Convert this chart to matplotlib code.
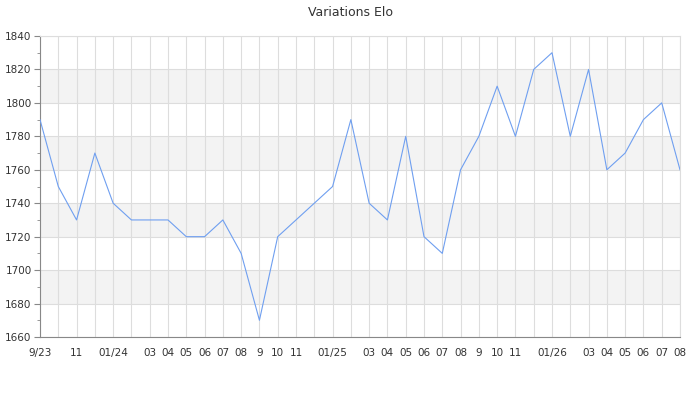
import matplotlib.pyplot as plt
import numpy as np

labels = ['9/23', '10', '11', '12', '01/24', '02', '03', '04', '05', '06', '07', '08',
          '9', '10', '11', '12', '01/25', '02', '03', '04', '05', '06', '07', '08',
          '9', '10', '11', '12', '01/26', '02', '03', '04', '05', '06', '07', '08']
shown = [True, False, True, False, True, False, True, True, True, True, True, True,
         True, True, True, False, True, False, True, True, True, True, True, True,
         True, True, True, False, True, False, True, True, True, True, True, True]
elo = [1790, 1750, 1730, 1770, 1740, 1730, 1730, 1730, 1720, 1720, 1730, 1710,
       1670, 1720, 1730, 1740, 1750, 1790, 1740, 1730, 1780, 1720, 1710, 1760,
       1780, 1810, 1780, 1820, 1830, 1780, 1820, 1760, 1770, 1790, 1800, 1760]

x = np.arange(len(elo))

fig = plt.figure(figsize=(7, 4), dpi=100)
ax = fig.add_axes([40/700, 1 - 337/400, 640/700, 301/400])

# alternating grey bands
for lo in [1680, 1720, 1760, 1800]:
    ax.axhspan(lo, lo + 20, color='#f3f3f3', zorder=0, lw=0)

ax.plot(x, elo, color='#6f9ff0', linewidth=0.8, zorder=3)

ax.set_xlim(0, len(elo) - 1)
ax.set_ylim(1660, 1840)
ax.set_yticks(np.arange(1660, 1841, 20))
ax.set_yticks(np.arange(1660, 1841, 10), minor=True)
ax.set_xticks(x)
ax.set_xticklabels([l if s else '' for l, s in zip(labels, shown)])

ax.grid(True, which='major', color='#dddddd', linewidth=0.8, zorder=1)
ax.set_axisbelow(True)

for side in ['top', 'right']:
    ax.spines[side].set_color('#dddddd')
    ax.spines[side].set_linewidth(0.8)
for side in ['left', 'bottom']:
    ax.spines[side].set_color('#888888')
    ax.spines[side].set_linewidth(0.8)

ax.tick_params(axis='x', length=0, labelsize=7.5, labelcolor='#333333', pad=8)
ax.tick_params(axis='y', which='major', length=4, color='#888888', labelsize=7.5,
               labelcolor='#333333', pad=2)
ax.tick_params(axis='y', which='minor', length=2, color='#888888')

fig.text(0.5, 1 - 12/400, 'Variations Elo', ha='center', va='center',
         fontsize=9, color='#333333')

fig.savefig('out.png', dpi=100)
